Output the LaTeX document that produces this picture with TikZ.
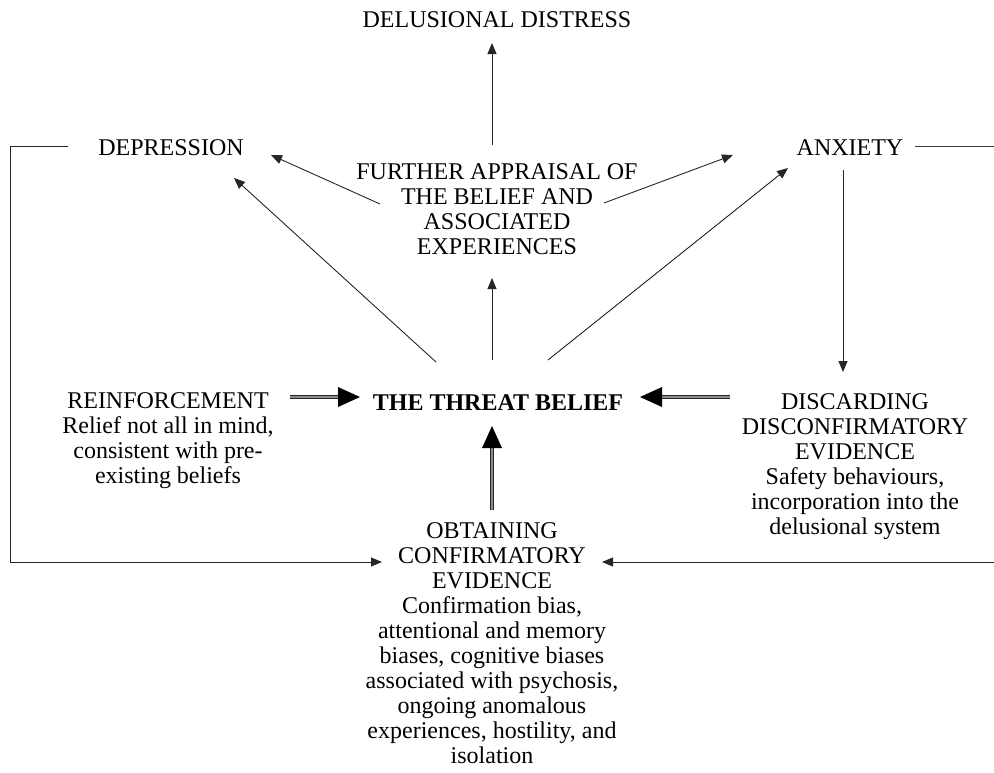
\documentclass[tikz,border=0pt]{standalone}
\usepackage{fontspec}
\setmainfont{Liberation Serif}
\usetikzlibrary{arrows.meta,calc}
\begin{document}
\begin{tikzpicture}[x=1pt,y=-1pt,
  txt/.style={inner sep=1pt, align=center, font=\fontsize{24}{25}\selectfont},
  thin arr/.style={draw=black!85, line width=0.9pt, -{Triangle[length=11pt,width=9pt]}},
  plain/.style={draw=black!75, line width=0.9pt},
  dbl/.style={draw=black!85, line width=0.9pt, double=black!45, double distance=2.2pt},
  tipfill/.style={fill=black, draw=none}
]
\useasboundingbox (0,0) rectangle (994,772);
\node[txt] (dd) at (497,20) {DELUSIONAL DISTRESS};
\node[txt] (dep) at (171,148) {DEPRESSION};
\node[txt] (anx) at (850,148) {ANXIETY};
\node[txt] (fa) at (497,209) {FURTHER APPRAISAL OF\\THE BELIEF AND\\ASSOCIATED\\EXPERIENCES};
\node[txt, font=\fontsize{24}{25}\selectfont\bfseries] (tb) at (498,403) {THE THREAT BELIEF};
\node[txt] (re) at (168,441) {REINFORCEMENT\\Relief not all in mind,\\consistent with pre-\\existing beliefs};
\node[txt] (dc) at (855,467) {DISCARDING\\DISCONFIRMATORY\\EVIDENCE\\Safety behaviours,\\incorporation into the\\delusional system};
\node[txt] (ob) at (492,643) {OBTAINING\\CONFIRMATORY\\EVIDENCE\\Confirmation bias,\\attentional and memory\\biases, cognitive biases\\associated with psychosis,\\ongoing anomalous\\experiences, hostility, and\\isolation};

% coordinates
\coordinate (faTop) at (492,145);
\coordinate (ddBot) at (492,43);
\coordinate (faL) at (380,204);
\coordinate (depR) at (271,155);
\coordinate (faR) at (604,203);
\coordinate (anxL) at (733,155);
\coordinate (tbL) at (436,362);
\coordinate (depB) at (234,178);
\coordinate (tbR) at (548,360);
\coordinate (anxB) at (788,168);
\coordinate (tbT) at (492,360);
\coordinate (faB) at (492,278);
\coordinate (anxD) at (843,170);
\coordinate (dcT) at (843,372);
\coordinate (reR) at (290,397);
\coordinate (tbW) at (360,397);
\coordinate (dcL) at (730,397);
\coordinate (tbE) at (640,397);
\coordinate (obT) at (492,510);
\coordinate (tbS) at (492,426);
\coordinate (depW) at (68,146);
\coordinate (lc1) at (10,146);
\coordinate (lc2) at (10,562);
\coordinate (obW) at (382,562);
\coordinate (anxE) at (915,146);
\coordinate (re1) at (994,146);
\coordinate (re2) at (994,562);
\coordinate (obE) at (602,562);

\draw[thin arr] (faTop) -- (ddBot);
\draw[thin arr] (faL) -- (depR);
\draw[thin arr] (faR) -- (anxL);
\draw[thin arr] (tbL) -- (depB);
\draw[thin arr] (tbR) -- (anxB);
\draw[thin arr] (tbT) -- (faB);
\draw[thin arr] (anxD) -- (dcT);
\draw[thin arr] (depW) -- (lc1) -- (lc2) -- (obW);
\draw[plain] (anxE) -- (re1);
\draw[thin arr] (re2) -- (obE);

\draw[dbl] (reR) -- ($(tbW)+(-16,0)$);
\fill[tipfill] (tbW) -- ($(tbW)+(-22,-10)$) -- ($(tbW)+(-22,10)$) -- cycle;
\draw[dbl] (dcL) -- ($(tbE)+(16,0)$);
\fill[tipfill] (tbE) -- ($(tbE)+(22,-10)$) -- ($(tbE)+(22,10)$) -- cycle;
\draw[dbl] (obT) -- ($(tbS)+(0,16)$);
\fill[tipfill] (tbS) -- ($(tbS)+(-10,22)$) -- ($(tbS)+(10,22)$) -- cycle;
\end{tikzpicture}
\end{document}
